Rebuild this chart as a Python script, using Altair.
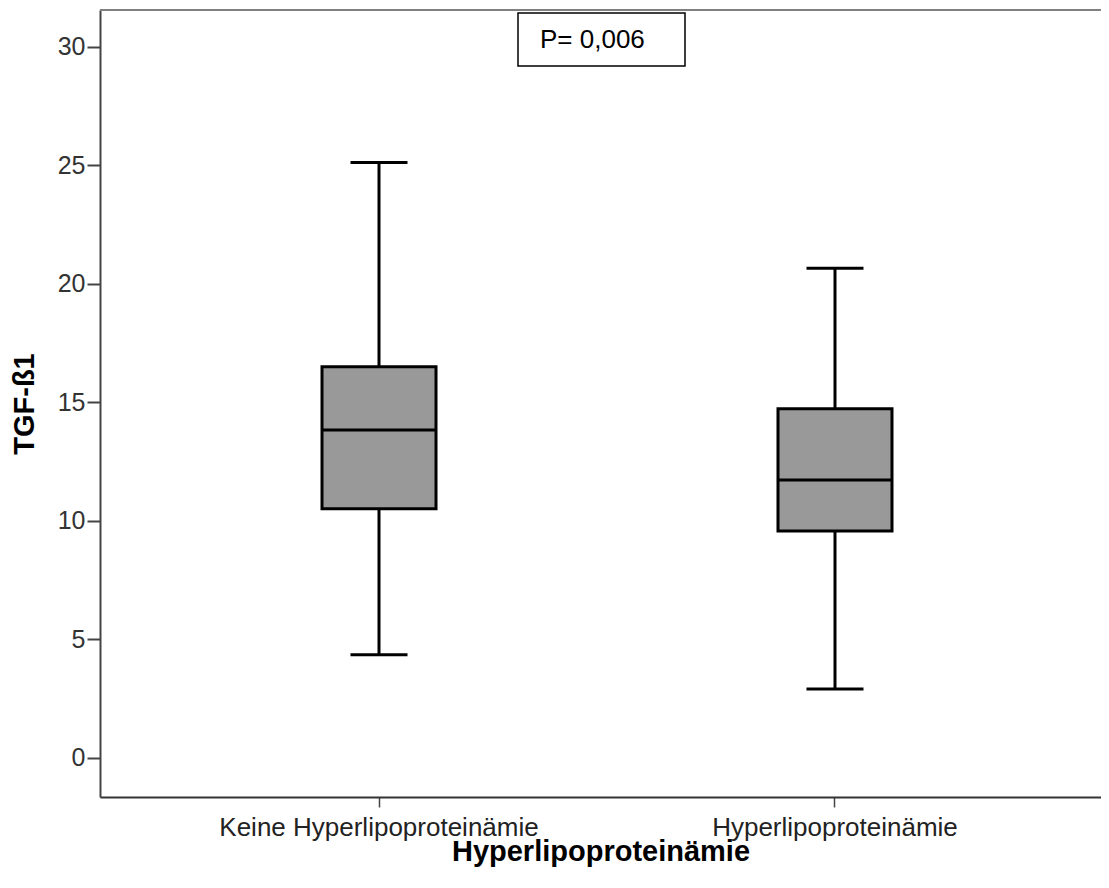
import altair as alt
import pandas as pd

groups = ["Keine Hyperlipoproteinämie", "Hyperlipoproteinämie"]
lower = [4.35, 2.91]
q1 = [10.51, 9.58]
median = [13.84, 11.73]
q3 = [16.51, 14.73]
upper = [25.12, 20.66]
y_ticks = [0, 5, 10, 15, 20, 25, 30]
p_label = "P= 0,006"

df = pd.DataFrame({"group": groups, "lower": lower, "q1": q1,
                   "median": median, "q3": q3, "upper": upper})

W, H = 1001, 787
FONT = "Liberation Sans"

xscale = alt.Scale(domain=groups, paddingInner=0, paddingOuter=0.0976, align=0.573)
yscale = alt.Scale(domain=[-1.65, 31.56], nice=False, zero=False)

x_enc = alt.X("group:N", scale=xscale, sort=groups,
              axis=alt.Axis(title="Hyperlipoproteinämie", labelAngle=0,
                            labelFontSize=26, labelFont=FONT, labelColor="#222",
                            labelLimit=500, labelPadding=7, tickSize=10,
                            tickColor="#444", tickWidth=1.5,
                            domainColor="#333", domainWidth=2,
                            titleFont=FONT, titleFontSize=29, titleFontWeight="bold",
                            titleColor="#000", titlePadding=-3))
y_axis = alt.Axis(title="TGF-ß1", values=y_ticks, grid=False,
                  labelFontSize=25, labelFont=FONT, labelColor="#333",
                  labelPadding=2, tickSize=13, tickColor="#444", tickWidth=2,
                  domainColor="#444", domainWidth=2,
                  titleFont=FONT, titleFontSize=29, titleFontWeight="bold",
                  titleColor="#000", titlePadding=18)

base = alt.Chart(df)

whisker = base.mark_rule(color="black", strokeWidth=3, opacity=1).encode(
    x=x_enc,
    y=alt.Y("lower:Q", scale=yscale, axis=y_axis),
    y2="upper:Q",
)
box = base.mark_bar(size=114, color="#999999", stroke="black", strokeWidth=3,
                    opacity=1).encode(
    x=x_enc, y=alt.Y("q1:Q", scale=yscale), y2="q3:Q"
)
med = base.mark_tick(size=114, thickness=3, color="black", opacity=1).encode(
    x=x_enc, y=alt.Y("median:Q", scale=yscale)
)
cap_low = base.mark_tick(size=57, thickness=3, color="black", opacity=1).encode(
    x=x_enc, y=alt.Y("lower:Q", scale=yscale)
)
cap_up = base.mark_tick(size=57, thickness=3, color="black", opacity=1).encode(
    x=x_enc, y=alt.Y("upper:Q", scale=yscale)
)

one = pd.DataFrame({"label": [p_label]})
top_border = alt.Chart(one).mark_rule(color="#808080", strokeWidth=2).encode(
    x=alt.value(0), x2=alt.value(W), y=alt.value(0)
)
pbox = alt.Chart(one).mark_rect(fill="white", stroke="black", strokeWidth=1.5).encode(
    x=alt.value(418), x2=alt.value(585), y=alt.value(3), y2=alt.value(56)
)
ptext = alt.Chart(one).mark_text(align="left", baseline="alphabetic", fontSize=26,
                                 font=FONT, color="black").encode(
    x=alt.value(440), y=alt.value(38), text="label:N"
)

chart = alt.layer(whisker, box, med, cap_low, cap_up, top_border, pbox, ptext).properties(
    width=W, height=H,
    autosize=alt.AutoSizeParams(type="none"),
    padding={"left": 92, "top": 2, "right": 0, "bottom": 88},
).configure_view(stroke=None).configure(background="white")

chart.save("out.html", embed_options={"renderer": "svg", "actions": False})
